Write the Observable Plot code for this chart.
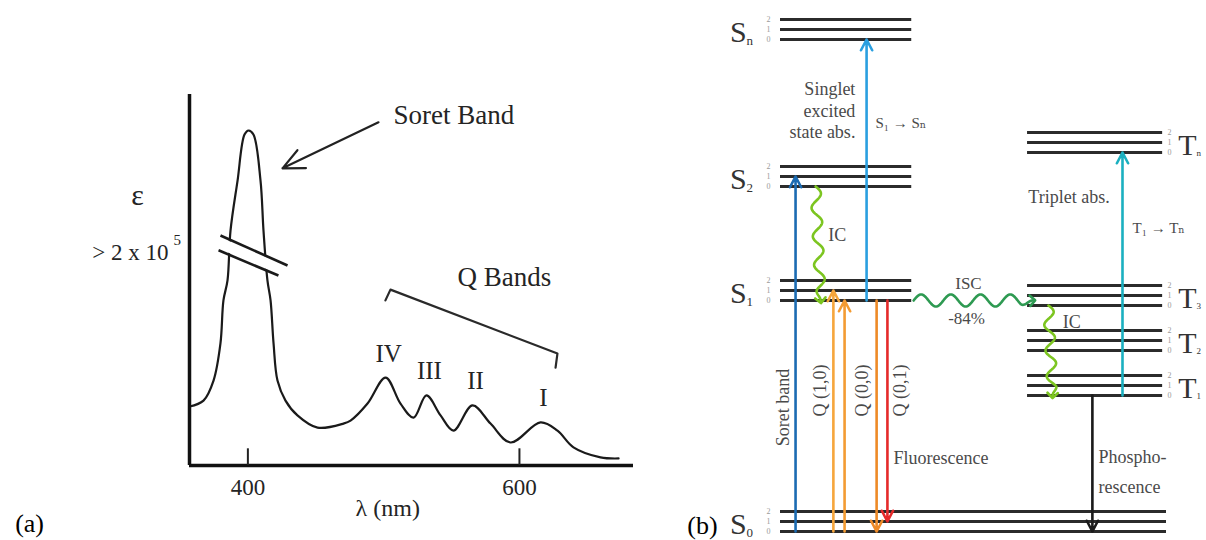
<!DOCTYPE html>
<html>
<head>
<meta charset="utf-8">
<script src="https://cdn.jsdelivr.net/npm/d3@7"></script>
<script src="https://cdn.jsdelivr.net/npm/@observablehq/plot@0.6"></script>
<style>
  html, body { margin: 0; padding: 0; background: #fff; }
  #figure { position: relative; width: 1206px; height: 540px; overflow: hidden; background: #fff; }
  #panel-a { position: absolute; left: 0; top: 0; width: 680px; height: 540px; }
  #panel-b { position: absolute; left: 680px; top: 0; width: 526px; height: 540px; }
</style>
</head>
<body>
<div id="figure">
  <div id="panel-a"></div>
  <div id="panel-b"></div>
</div>
<script>
// ---------- (a) absorption spectrum of a porphyrin ----------
// wavelength (nm) and relative molar absorptivity (arbitrary units, Soret peak shown broken)
const wavelength = [357.0, 367.3, 374.7, 379.8, 382.0, 385.0, 387.2, 392.4, 397.5, 400.5, 404.1,
  409.3, 411.5, 414.4, 416.7, 418.9, 421.8, 427.7, 436.5, 451.3, 470.4, 475.6, 488.1, 501.4,
  512.4, 522.0, 531.5, 541.9, 551.4, 565.4, 578.7, 593.4, 615.5, 628.0, 639.8, 659.7, 673.0];
const epsilon = [15.9, 17.5, 22.9, 32.9, 44.5, 49.9, 63.3, 76.8, 89.2, 90.3, 89.2,
  76.8, 63.3, 49.9, 44.5, 32.9, 22.9, 17.5, 13.5, 10.2, 11.3, 12.1, 16.7, 23.7,
  16.7, 12.9, 18.9, 13.5, 9.4, 16.2, 11.3, 6.2, 11.6, 9.4, 4.9, 2.2, 1.9];
const axisTicks = [400, 600];
const qBandNames = ["IV", "III", "II", "I"];
const qBandPeaks = [501.4, 531.5, 565.4, 615.5];

const spectrum = wavelength.map((w, i) => ({wl: w, eps: epsilon[i]}));
const qLabels = qBandNames.map((name, i) => ({name, wl: qBandPeaks[i], eps: epsilon[wavelength.indexOf(qBandPeaks[i])]}));

const serif = "'Liberation Serif', 'Times New Roman', 'DejaVu Serif', serif";
const ink = "#242424";

const chartA = Plot.plot({
  width: 680, height: 540,
  marginLeft: 189, marginRight: 47, marginTop: 94, marginBottom: 75,
  x: {domain: [357, 684], axis: null},
  y: {domain: [0, 100], axis: null},
  style: {fontFamily: serif, background: "white"},
  marks: [
    Plot.line(spectrum, {x: "wl", y: "eps", curve: "catmull-rom", stroke: "#1a1a1a", strokeWidth: 2.2}),
    // axis break drawn across the Soret peak
    Plot.link([0], {x1: 379.1, y1: 60.0, x2: 426.0, y2: 52.6, stroke: "white", strokeWidth: 11}),
    Plot.link([[379.8, 62.0, 429.2, 53.9], [378.4, 58.0, 422.5, 51.2]],
      {x1: d => d[0], y1: d => d[1], x2: d => d[2], y2: d => d[3], stroke: "#1a1a1a", strokeWidth: 2.6}),
    // axes
    Plot.ruleX([357], {y1: 0, y2: 100, stroke: "#111", strokeWidth: 3.5}),
    Plot.ruleY([0], {x1: 357, x2: 684, stroke: "#111", strokeWidth: 3.5}),
    Plot.ruleX(axisTicks, {y1: 0, y2: 4.5, stroke: "#222", strokeWidth: 2}),
    Plot.text(axisTicks, {x: d => d, y: 0, dy: 22, text: d => String(d), fontSize: 23, fill: ink}),
    Plot.text(["λ (nm)"], {x: 503, y: 0, dy: 43, text: d => d, fontSize: 24, fill: ink}),
    Plot.text(["ε"], {x: 318.7, y: 72.8, text: d => d, fontSize: 30, fill: ink}),
    Plot.text(["> 2 x 10"], {x: 341.5, y: 57.4, text: d => d, textAnchor: "end", fontSize: 23, fill: ink}),
    Plot.text(["5"], {x: 345.2, y: 60.6, text: d => d, textAnchor: "start", fontSize: 15, fill: ink}),
    // Soret band annotation
    Plot.arrow([0], {x1: 496.2, y1: 92.5, x2: 425.5, y2: 80.1, stroke: "#222", strokeWidth: 2.2, headLength: 16, headAngle: 50}),
    Plot.text(["Soret Band"], {x: 507.2, y: 94.3, text: d => d, textAnchor: "start", fontSize: 27, fill: ink}),
    // Q bands bracket and labels
    Plot.line([[501.3, 44.5], [505.0, 47.4], [628.0, 30.2], [626.6, 26.4]],
      {x: d => d[0], y: d => d[1], stroke: "#2a2a2a", strokeWidth: 2.2}),
    Plot.text(["Q Bands"], {x: 554.3, y: 50.7, text: d => d, textAnchor: "start", fontSize: 27, fill: ink}),
    Plot.text(qLabels, {x: "wl", y: "eps", text: "name", dx: 3, dy: -24, fontSize: 25, fill: ink}),
    Plot.text(["(a)"], {x: 239.2, y: -15.6, text: d => d, fontSize: 26, fill: "#000"})
  ]
});
document.getElementById("panel-a").append(chartA);

// ---------- (b) Jablonski diagram ----------
// electronic states and the energy of their v = 0 level (arbitrary units)
const levelStates = ["S0", "S1", "S2", "Sn", "T1", "T2", "T3", "Tn"];
const levelEnergy = [0, 23.1, 34.5, 49.2, 13.6, 18.1, 22.6, 37.9];
const vibQuanta = [0, 1, 2];

// radiative transitions: from state/v to state/v
const trLabel = ["Soret band", "Q (1,0)", "Q (0,0)", "S₁ → Sₙ", "Fluorescence (0,0)", "Fluorescence (0,1)", "T₁ → Tₙ", "Phosphorescence"];
const trFrom = ["S0", "S0", "S0", "S1", "S1", "S1", "T1", "T1"];
const trFromV = [0, 0, 0, 0, 0, 0, 0, 0];
const trTo = ["S2", "S1", "S1", "Sn", "S0", "S0", "Tn", "S0"];
const trToV = [1, 1, 0, 0, 0, 1, 0, 0];

// non-radiative transitions
const nrLabel = ["IC", "ISC", "IC"];
const nrFrom = ["S2", "S1", "T3"];
const nrTo = ["S1", "T3", "T1"];

const E = (state, v) => levelEnergy[levelStates.indexOf(state)] + v;

// horizontal placement (column units: S0 spans 0–100)
const colSinglet = [0, 34], colTriplet = [64, 99], colGround = [0, 100];
const arrowStyle = {
  "Soret band":         {x: 3.9,  color: "#1b6bb2", inset: 1},
  "Q (1,0)":            {x: 13.7, color: "#f6a63c", inset: 0},
  "Q (0,0)":            {x: 16.6, color: "#f39b33", inset: 5},
  "S₁ → Sₙ":            {x: 22.3, color: "#2a9fe0", inset: 0},
  "Fluorescence (0,0)": {x: 24.9, color: "#ee8a27", inset: 3},
  "Fluorescence (0,1)": {x: 27.7, color: "#e52a2a", inset: 5},
  "T₁ → Tₙ":            {x: 88.6, color: "#1bb0c0", inset: 0},
  "Phosphorescence":    {x: 80.8, color: "#1a1a1a", inset: 5}
};
const waveStyle = [
  {x1: 9.1, x2: 10.4, color: "#7cc520", cycles: 4, amp: 5},
  {x1: 34.5, x2: 65.3, color: "#2e9a52", cycles: 4, amp: 6},
  {x1: 69.4, x2: 70.5, color: "#7cc520", cycles: 3.5, amp: 5}
];

const W = 526, H = 540, mL = 100, mR = 40, mT = 11, mB = 9;
const xDom = [0, 100], yDom = [0, 52];
const kx = (W - mL - mR) / (xDom[1] - xDom[0]);
const ky = (H - mT - mB) / (yDom[1] - yDom[0]);

const levels = levelStates.flatMap((s, i) => vibQuanta.map(v => {
  const col = s === "S0" ? colGround : s[0] === "S" ? colSinglet : colTriplet;
  return {state: s, v, E: levelEnergy[i] + v, x1: col[0], x2: col[1], singlet: s[0] === "S"};
}));

const transitions = trLabel.map((label, i) => ({
  label, y1: E(trFrom[i], trFromV[i]), y2: E(trTo[i], trToV[i]), ...arrowStyle[label]
}));

// wavy path between two points, amplitude in pixels, tapering into the arrow head
function wavy(x1, y1, x2, y2, cycles, ampPx) {
  const X1 = x1 * kx, Y1 = y1 * ky, X2 = x2 * kx, Y2 = y2 * ky;
  const dx = X2 - X1, dy = Y2 - Y1, L = Math.hypot(dx, dy);
  const nx = -dy / L, ny = dx / L;
  const n = 160;
  return d3.range(n + 1).map(i => {
    const t = i / n;
    const env = Math.min(1, (1 - t) / 0.1);
    const o = ampPx * env * Math.sin(2 * Math.PI * cycles * t);
    return {x: (X1 + dx * t + nx * o) / kx, y: (Y1 + dy * t + ny * o) / ky};
  });
}

const waveMarks = nrLabel.map((label, i) => {
  const s = waveStyle[i];
  const y1 = E(nrFrom[i], 0);
  const y2 = label === "ISC" ? y1 : E(nrTo[i], 0); // ISC drawn isoenergetic
  return Plot.line(wavy(s.x1, y1, s.x2, y2, s.cycles, s.amp),
    {x: "x", y: "y", stroke: s.color, strokeWidth: 2.6, markerEnd: "arrow"});
});

const stateRows = levelStates.map((s, i) => ({letter: s[0], sub: s.slice(1), E: levelEnergy[i], singlet: s[0] === "S"}));
const grey = "#4a4a4a";

const chartB = Plot.plot({
  width: W, height: H,
  marginLeft: mL, marginRight: mR, marginTop: mT, marginBottom: mB,
  x: {domain: xDom, axis: null},
  y: {domain: yDom, axis: null},
  style: {fontFamily: serif, background: "white"},
  marks: [
    Plot.ruleY(levels, {y: "E", x1: "x1", x2: "x2", stroke: "#2b2b2b", strokeWidth: 3}),
    Plot.text(levels, {x: d => d.singlet ? -3.1 : 100.8, y: "E", text: d => String(d.v), fontSize: 8, fill: "#9a9a9a"}),
    Plot.text(stateRows, {x: d => d.singlet ? -10.9 : 105.4, y: d => d.E + 0.7, text: "letter", fontSize: 30, fill: "#333"}),
    Plot.text(stateRows, {x: d => d.singlet ? -8.8 : 107.8, y: d => d.E - 0.1, text: "sub", textAnchor: "start",
      fontSize: d => d.singlet ? 13 : 9, fill: "#333"}),
    Plot.arrow(transitions, {x1: "x", x2: "x", y1: "y1", y2: "y2", stroke: "color", insetEnd: "inset",
      strokeWidth: 2.6, headLength: 7, headAngle: 55}),
    ...waveMarks,
    Plot.text(["Singlet\nexcited\nstate abs."], {x: 19.4, y: 42.2, text: d => d, textAnchor: "end", lineHeight: 1.22, fontSize: 18, fill: grey}),
    Plot.text(["S₁ → Sₙ"], {x: 24.6, y: 40.8, text: d => d, textAnchor: "start", fontSize: 15, fill: grey}),
    Plot.text(["Triplet abs."], {x: 64.2, y: 33.4, text: d => d, textAnchor: "start", fontSize: 18, fill: grey}),
    Plot.text(["T₁ → Tₙ"], {x: 91.2, y: 30.3, text: d => d, textAnchor: "start", fontSize: 15, fill: grey}),
    Plot.text(["IC"], {x: 12.4, y: 29.6, text: d => d, textAnchor: "start", fontSize: 18, fill: grey}),
    Plot.text(["ISC"], {x: 48.7, y: 24.8, text: d => d, fontSize: 17, fill: grey}),
    Plot.text(["-84%"], {x: 48.2, y: 21.3, text: d => d, fontSize: 17, fill: grey}),
    Plot.text(["IC"], {x: 73.1, y: 20.9, text: d => d, textAnchor: "start", fontSize: 18, fill: grey}),
    Plot.text(["Soret band"], {x: 0.8, y: 12.4, text: d => d, rotate: -90, fontSize: 18, fill: grey}),
    Plot.text(["Q (1,0)"], {x: 10.4, y: 14.1, text: d => d, rotate: -90, fontSize: 18, fill: grey}),
    Plot.text(["Q (0,0)"], {x: 21.2, y: 14.1, text: d => d, rotate: -90, fontSize: 18, fill: grey}),
    Plot.text(["Q (0,1)"], {x: 31.1, y: 14.1, text: d => d, rotate: -90, fontSize: 18, fill: grey}),
    Plot.text(["Fluorescence"], {x: 29.3, y: 7.3, text: d => d, textAnchor: "start", fontSize: 18, fill: grey}),
    Plot.text(["Phospho-"], {x: 82.4, y: 7.4, text: d => d, textAnchor: "start", fontSize: 18, fill: grey}),
    Plot.text(["rescence"], {x: 82.4, y: 4.4, text: d => d, textAnchor: "start", fontSize: 18, fill: grey}),
    Plot.text(["(b)"], {x: -20.2, y: 0.6, text: d => d, fontSize: 26, fill: "#000"})
  ]
});
document.getElementById("panel-b").append(chartB);
</script>
</body>
</html>
